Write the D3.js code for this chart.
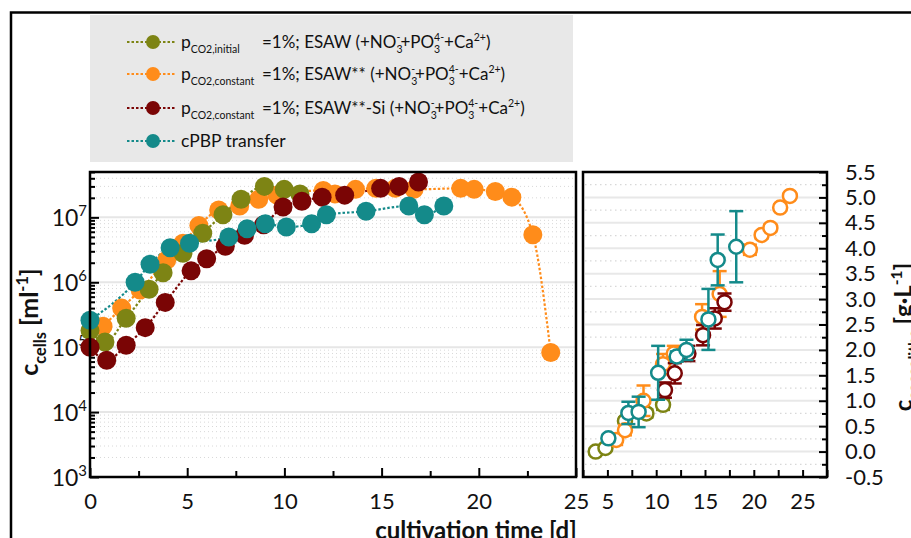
<!DOCTYPE html>
<html><head><meta charset="utf-8">
<script src="https://cdn.jsdelivr.net/npm/d3@7"></script>
<style>
body{margin:0;background:#fff}
svg{display:block;font-family:Lato,"Open Sans",sans-serif}
</style></head>
<body><svg id="c" width="911" height="538"></svg>
<script>
// ---------- data ----------
const seriesNames = ["ESAW initial", "ESAW** constant", "ESAW**-Si constant", "cPBP transfer"];
const seriesColors = ["#7d8414", "#ff8c1a", "#7a0505", "#148a8a"];

// left panel: cell concentration [ml^-1] vs cultivation time [d]
const oliveDays  = [0, 0.77, 1.86, 3.04, 3.76, 4.78, 5.8, 6.84, 7.77, 8.97, 9.99, 10.8];
const oliveCells = [1.8e5, 1.2e5, 2.8e5, 7.8e5, 1.4e6, 2.8e6, 5.7e6, 1.1e7, 1.9e7, 3.0e7, 2.7e7, 2.3e7];
const orangeDays  = [0.67, 1.63, 2.58, 3.95, 4.78, 5.6, 6.62, 7.7, 8.68, 9.62, 12.0, 12.6, 13.66, 14.7, 15.7, 16.67, 19.07, 19.76, 20.85, 21.7, 22.78, 23.7];
const orangeCells = [2.1e5, 4e5, 7.6e5, 2.2e6, 4e6, 7.5e6, 1.3e7, 1.5e7, 1.9e7, 2.2e7, 2.6e7, 2.3e7, 2.7e7, 2.8e7, 2.8e7, 2.7e7, 2.8e7, 2.7e7, 2.5e7, 2.05e7, 5.4e6, 8.3e4];
const redDays  = [0, 0.86, 1.86, 2.84, 3.87, 5.2, 6.0, 6.96, 7.95, 8.93, 9.93, 10.9, 11.94, 13.1, 14.95, 15.9, 16.9];
const redCells = [1e5, 6.3e4, 1.07e5, 2e5, 4.9e5, 1.5e6, 2.3e6, 3.6e6, 5.3e6, 7.7e6, 1.44e7, 1.77e7, 2.05e7, 2.2e7, 2.8e7, 3.0e7, 3.5e7];
const tealDays  = [0, 2.32, 3.09, 4.12, 5.12, 7.14, 8.08, 9.02, 10.1, 11.4, 12.16, 14.2, 16.4, 17.2, 18.2];
const tealCells = [2.6e5, 1e6, 1.9e6, 3.4e6, 4e6, 5e6, 6.7e6, 8e6, 7.1e6, 8e6, 1.1e7, 1.24e7, 1.5e7, 1.1e7, 1.5e7];

// right panel: coccolith concentration [g/L] vs time [d], with error
const oliveT = [3.8, 4.8, 6.8, 9.0, 10.7];
const oliveC = [0.0, 0.07, 0.6, 0.75, 0.92];
const oliveE = [0.06, 0.06, 0.07, 0.08, 0.1];
const orangeT = [5.9, 6.8, 8.7, 10.7, 11.8, 14.7, 16.5, 19.6, 20.8, 21.7, 22.7, 23.7];
const orangeC = [0.23, 0.42, 1.0, 1.72, 1.93, 2.65, 3.1, 3.97, 4.26, 4.4, 4.8, 5.03];
const orangeE = [0.1, 0.1, 0.3, 0.2, 0.15, 0.25, 0.45, 0.1, 0.07, 0.07, 0.06, 0.06];
const redT = [10.9, 11.9, 13.3, 14.8, 16.0, 17.0];
const redC = [1.21, 1.54, 1.93, 2.29, 2.62, 2.94];
const redE = [0.15, 0.2, 0.15, 0.2, 0.2, 0.17];
const tealT = [5.1, 7.15, 8.2, 10.2, 12.1, 13.1, 15.35, 16.3, 18.2];
const tealC = [0.26, 0.76, 0.78, 1.55, 1.87, 2.0, 2.6, 3.77, 4.03];
const tealE = [0.07, 0.22, 0.3, 0.53, 0.1, 0.2, 0.6, 0.5, 0.7];

// ticks
const leftXTicks = [0, 5, 10, 15, 20, 25];
const leftXMinor = [2.5, 7.5, 12.5, 17.5, 22.5];
const leftYDecades = [1e3, 1e4, 1e5, 1e6, 1e7];
const rightXTicks = [5, 10, 15, 20, 25];
const rightXMinor = [2.5, 7.5, 12.5, 17.5, 22.5, 27.5];
const rightYTicks = [-0.5, 0, 0.5, 1, 1.5, 2, 2.5, 3, 3.5, 4, 4.5, 5, 5.5];

// legend text segments
const legendPrefix = ["CO2,initial", "CO2,constant", "CO2,constant", null];
const legendMain = [
  [["=1%; ESAW (+NO","n"],[["3","-"],"ss"],["+PO","n"],[["3","4-"],"ss"],["+Ca","n"],["2+","sup"],[")","n"]],
  [["=1%; ESAW** (+NO","n"],[["3","-"],"ss"],["+PO","n"],[["3","4-"],"ss"],["+Ca","n"],["2+","sup"],[")","n"]],
  [["=1%; ESAW**-Si (+NO","n"],[["3","-"],"ss"],["+PO","n"],[["3","4-"],"ss"],["+Ca","n"],["2+","sup"],[")","n"]],
  [["cPBP transfer","n"]]
];

// ---------- drawing ----------
const svg = d3.select("#c");

function rich(t, segs, B, small) {
  const sm = small || 0.65*B;
  let cur = 0;
  const off = {n:0, sub:0.3*B, sup:-0.42*B};
  segs.forEach(([txt, type]) => {
    if (type === "ss") {
      const s = t.append("tspan").attr("font-size", sm).attr("dy", off.sub - cur).text(txt[0]);
      cur = off.sub;
      const L = s.node().getComputedTextLength();
      t.append("tspan").attr("font-size", sm).attr("dx", -L).attr("dy", off.sup - cur).text(txt[1]);
      cur = off.sup;
    } else {
      t.append("tspan").attr("font-size", type === "n" ? B : sm).attr("dy", off[type] - cur).text(txt);
      cur = off[type];
    }
  });
}

// outer frame
svg.append("path").attr("d", "M11,538V12.5H911").attr("fill","none").attr("stroke","#000").attr("stroke-width",2.5);

// legend
const lg = svg.append("g");
lg.append("rect").attr("x",90).attr("y",15).attr("width",483).attr("height",147).attr("fill","#e8e8e8");
const rowY = [42, 74, 108, 141];
seriesNames.forEach((n,i) => {
  const y = rowY[i];
  lg.append("line").attr("x1",127).attr("x2",176).attr("y1",y).attr("y2",y)
    .attr("stroke",seriesColors[i]).attr("stroke-width",2).attr("stroke-dasharray","2.5,2");
  lg.append("circle").attr("cx",153).attr("cy",y).attr("r",7).attr("fill",seriesColors[i]);
  if (legendPrefix[i]) {
    const t = lg.append("text").attr("x",181).attr("y",y+6).attr("fill","#111");
    rich(t, [["p","n"],[legendPrefix[i],"sub"]], 17.5, 10.5);
    const m = lg.append("text").attr("x",262).attr("y",y+6).attr("fill","#111");
    rich(m, legendMain[i], 17, 10.5);
  } else {
    const m = lg.append("text").attr("x",181).attr("y",y+6).attr("fill","#111");
    rich(m, legendMain[i], 17.5, 10.5);
  }
});

// ---------- left panel ----------
const xL = d3.scaleLinear().domain([0,25]).range([90,576]);
const yL = d3.scaleLog().domain([1e3,5e7]).range([477,172]);

const minorY = [];
leftYDecades.forEach(d => { for (let k=2;k<=9;k++){ const v=d*k; if (v<=5e7) minorY.push(v);} });
const gL = svg.append("g");
gL.selectAll(".gm").data(minorY).join("line")
  .attr("x1",92).attr("x2",575).attr("y1",d=>yL(d)).attr("y2",d=>yL(d))
  .attr("stroke","#d8d8d8").attr("stroke-width",1).attr("stroke-dasharray","1,3");
gL.selectAll(".gM").data(leftYDecades.slice(1)).join("line")
  .attr("x1",92).attr("x2",575).attr("y1",d=>yL(d)).attr("y2",d=>yL(d))
  .attr("stroke","#e6e6e6").attr("stroke-width",2);

function styleAxis(g){
  g.select(".domain").remove();
  g.selectAll(".tick line").attr("stroke","#000").attr("stroke-width",2);
  g.selectAll("text").attr("fill","#111");
}
// x minor / major
svg.append("g").attr("transform","translate(0,477)")
  .call(d3.axisBottom(xL).tickValues(leftXMinor).tickSize(-6).tickFormat("")).call(styleAxis);
svg.append("g").attr("transform","translate(0,477)")
  .call(d3.axisBottom(xL).tickValues(leftXTicks).tickSize(-9).tickPadding(16).tickFormat(d3.format("d")))
  .call(styleAxis).call(g=>g.selectAll("text").attr("font-size",22).attr("font-family","Lato"));
// y minor / major
svg.append("g").attr("transform","translate(90,0)")
  .call(d3.axisLeft(yL).tickValues(minorY).tickSize(-5).tickFormat("")).call(styleAxis);
svg.append("g").attr("transform","translate(90,0)")
  .call(d3.axisLeft(yL).tickValues(leftYDecades).tickSize(-9).tickPadding(3).tickFormat(""))
  .call(styleAxis)
  .call(g=>g.selectAll(".tick").each(function(d){
    const t = d3.select(this).append("text").attr("x",-3).attr("y",8).attr("text-anchor","end")
      .attr("fill","#111").attr("font-family","Lato");
    rich(t, [["10","n"],[String(Math.round(Math.log10(d))),"sup"]], 23);
  }));

// left data
const leftSeries = [
  [orangeDays, orangeCells, 1],
  [oliveDays, oliveCells, 0],
  [redDays, redCells, 2],
  [tealDays, tealCells, 3]
];
const lineL = d3.line().x(d=>xL(d[0])).y(d=>yL(d[1])).curve(d3.curveMonotoneX);
leftSeries.forEach(([xs, ys, ci]) => {
  const pts = xs.map((x,i)=>[x, ys[i]]);
  svg.append("path").datum(pts).attr("d",lineL).attr("fill","none")
    .attr("stroke",seriesColors[ci]).attr("stroke-width",2.2).attr("stroke-dasharray","2.5,2");
});
leftSeries.forEach(([xs, ys, ci]) => {
  const pts = xs.map((x,i)=>[x, ys[i]]);
  svg.append("g").selectAll("circle").data(pts).join("circle")
    .attr("cx",d=>xL(d[0])).attr("cy",d=>yL(d[1])).attr("r",9.5).attr("fill",seriesColors[ci]);
});
svg.append("rect").attr("x",90).attr("y",172).attr("width",486).attr("height",305)
  .attr("fill","none").attr("stroke","#000").attr("stroke-width",2.5);

// ---------- right panel ----------
const xR = d3.scaleLinear().domain([2.5,27.5]).range([583,827]);
const yR = d3.scaleLinear().domain([-0.5,5.5]).range([477,172]);
const rMinor = d3.range(-0.25, 5.5, 0.5);
const gR = svg.append("g");
gR.selectAll(".a").data(rMinor).join("line")
  .attr("x1",585).attr("x2",825).attr("y1",d=>yR(d)).attr("y2",d=>yR(d))
  .attr("stroke","#d8d8d8").attr("stroke-width",1.2).attr("stroke-dasharray","1.5,3.5");
gR.selectAll(".b").data(rightYTicks.slice(1,-1)).join("line")
  .attr("x1",585).attr("x2",825).attr("y1",d=>yR(d)).attr("y2",d=>yR(d))
  .attr("stroke","#e8e8e8").attr("stroke-width",2);

svg.append("g").attr("transform","translate(0,477)")
  .call(d3.axisBottom(xR).tickValues(rightXMinor).tickSize(-7).tickFormat("")).call(styleAxis);
svg.append("g").attr("transform","translate(0,477)")
  .call(d3.axisBottom(xR).tickValues(rightXTicks).tickSize(-7).tickPadding(16).tickFormat(d3.format("d")))
  .call(styleAxis).call(g=>g.selectAll("text").attr("font-size",22).attr("font-family","Lato"));
svg.append("g").attr("transform","translate(827,0)")
  .call(d3.axisRight(yR).tickValues(rMinor).tickSize(-5).tickFormat("")).call(styleAxis);
svg.append("g").attr("transform","translate(827,0)")
  .call(d3.axisRight(yR).tickValues(rightYTicks).tickSize(-8).tickPadding(18).tickFormat(d=>d.toFixed(1)))
  .call(styleAxis).call(g=>g.selectAll("text").attr("font-size",22).attr("font-family","Lato"));

const rightSeries = [
  [oliveT, oliveC, oliveE, 0],
  [orangeT, orangeC, orangeE, 1],
  [redT, redC, redE, 2],
  [tealT, tealC, tealE, 3]
];
rightSeries.forEach(([xs, ys, es, ci]) => {
  const pts = xs.map((x,i)=>({x, y:ys[i], e:es[i]}));
  const g = svg.append("g").attr("stroke",seriesColors[ci]).attr("stroke-width",2.5).attr("fill","none");
  pts.forEach(p => {
    const cx = xR(p.x), y1 = yR(p.y+p.e), y2 = yR(p.y-p.e);
    g.append("line").attr("x1",cx).attr("x2",cx).attr("y1",y1).attr("y2",y2);
    g.append("line").attr("x1",cx-7).attr("x2",cx+7).attr("y1",y1).attr("y2",y1);
    g.append("line").attr("x1",cx-7).attr("x2",cx+7).attr("y1",y2).attr("y2",y2);
  });
  g.selectAll("circle").data(pts).join("circle")
    .attr("cx",d=>xR(d.x)).attr("cy",d=>yR(d.y)).attr("r",7).attr("fill","#fff");
});
svg.append("rect").attr("x",583).attr("y",172).attr("width",244).attr("height",305)
  .attr("fill","none").attr("stroke","#000").attr("stroke-width",2.5);

// ---------- titles ----------
const tl = svg.append("text").attr("transform","translate(38,322) rotate(-90)")
  .attr("text-anchor","middle").attr("font-weight","bold").attr("fill","#111");
rich(tl, [["c","n"],["cells","sub"],[" [ml","n"],["-1","sup"],["]","n"]], 25);

svg.append("text").attr("x",476).attr("y",539).attr("text-anchor","middle")
  .attr("font-weight","bold").attr("font-size",24).attr("fill","#111").text("cultivation time [d]");

const tr = svg.append("text").attr("transform","translate(912,337) rotate(-90)")
  .attr("text-anchor","middle").attr("font-weight","bold").attr("fill","#111");
rich(tr, [["c","n"],["coccoliths","sub"],[" [g·L","n"],["-1","sup"],["]","n"]], 24);
</script>
</body></html>
